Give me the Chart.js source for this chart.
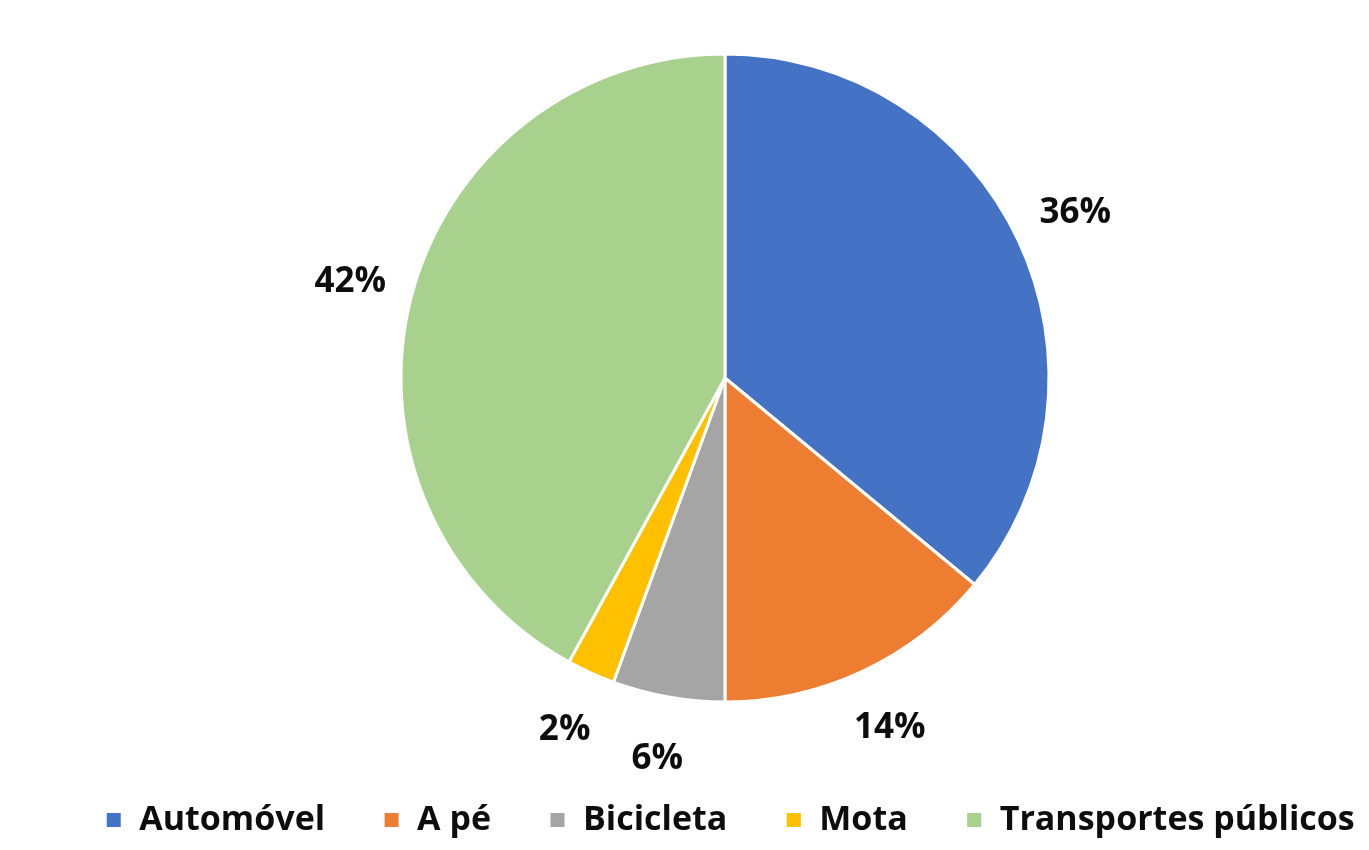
<!DOCTYPE html>
<html>
<head>
<meta charset="utf-8">
<script src="https://cdn.jsdelivr.net/npm/chart.js"></script>
<style>
  html, body { margin: 0; padding: 0; background: #fff; }
  #wrap { width: 1369px; height: 850px; }
</style>
</head>
<body>
<div id="wrap"><canvas id="chart" width="1369" height="850"></canvas></div>
<script>
const categories = ["Automóvel", "A pé", "Bicicleta", "Mota", "Transportes públicos"];
const shares = [36, 14, 5.6, 2.4, 42];
const sliceColors = ["#4472C4", "#ED7D31", "#A5A5A5", "#FFC000", "#A9D18E"];

const FONT = "'Open Sans', Lato, sans-serif";

// percent labels outside each slice
const outsideLabels = {
    id: "outsideLabels",
    afterDatasetsDraw(chart) {
        const ctx = chart.ctx;
        const meta = chart.getDatasetMeta(0);
        const total = shares.reduce((a, b) => a + b, 0);
        ctx.save();
        ctx.font = "bold 35px " + FONT;
        ctx.fillStyle = "#0d0d0d";
        ctx.textAlign = "center";
        ctx.textBaseline = "middle";
        meta.data.forEach((arc, i) => {
            const mid = (arc.startAngle + arc.endAngle) / 2;
            const r = arc.outerRadius + 63;
            const x = arc.x + Math.cos(mid) * r;
            const y = arc.y + Math.sin(mid) * r;
            ctx.fillText(Math.round(shares[i] / total * 100) + "%", x, y);
        });
        ctx.restore();
    }
};

// fixed legend height (pie keeps its place) and one row across the full width
const legendFit = {
    id: "legendFit",
    beforeInit(chart) {
        const fit = chart.legend.fit;
        chart.legend.fit = function () {
            const w = this.maxWidth;
            this.maxWidth = w + 400;
            fit.call(this);
            this.maxWidth = w;
            this.width = w;
            this.height = 105;
        };
    },
    afterLayout(chart) {
        chart.legend.left = 40;
        chart.legend.right = chart.width + 51;
    }
};

new Chart(document.getElementById("chart"), {
    type: "pie",
    data: {
        labels: categories,
        datasets: [{
            data: shares,
            backgroundColor: sliceColors,
            borderColor: "#ffffff",
            borderWidth: 3
        }]
    },
    options: {
        responsive: false,
        animation: false,
        radius: 324,
        layout: { padding: { left: 81, top: 11, right: 0, bottom: 0 } },
        plugins: {
            tooltip: { enabled: false },
            legend: {
                position: "bottom",
                labels: {
                    boxWidth: 17,
                    boxHeight: 17,
                    padding: 58,
                    color: "#0d0d0d",
                    font: { family: FONT, size: 34, weight: "bold" }
                }
            }
        }
    },
    plugins: [outsideLabels, legendFit]
});
</script>
</body>
</html>
